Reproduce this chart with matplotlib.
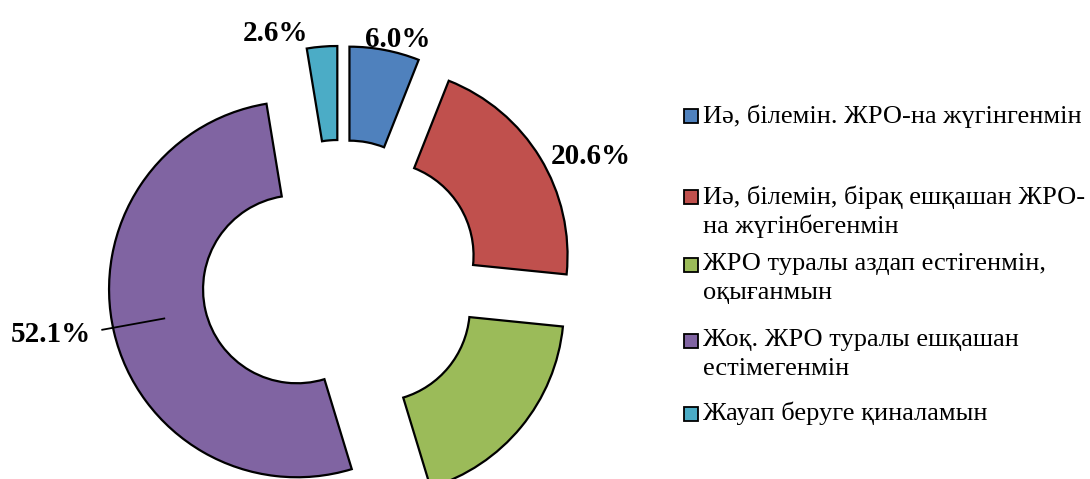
import matplotlib
matplotlib.use("Agg")
import matplotlib.pyplot as plt
from matplotlib.patches import Rectangle

# ----------------------------
# Data
# ----------------------------
categories = [
    "Иә, білемін. ЖРО-на жүгінгенмін",
    "Иә, білемін, бірақ ешқашан ЖРО-\nна жүгінбегенмін",
    "ЖРО туралы аздап естігенмін,\nоқығанмын",
    "Жоқ. ЖРО туралы ешқашан\nестімегенмін",
    "Жауап беруге қиналамын",
]
shares = [6.0, 20.6, 18.7, 52.1, 2.6]
colors = ["#4F81BD", "#C0504D", "#9BBB59", "#8064A2", "#4BACC6"]

# label positions (data units, radius 1 = outer ring); green label falls off the page
label_pos = [(0.303, 1.275), (1.33, 0.65), None, (-1.545, -0.295), (-0.35, 1.305)]

W, H = 1090, 479
fig = plt.figure(figsize=(W / 100, H / 100), dpi=100)
plt.rcParams["font.family"] = ["Liberation Serif", "DejaVu Serif"]

# donut centre and scale in pixels (top-left origin)
cx, cy, scale = 341, 279, 188
lim = 1.8
side = 2 * lim * scale
ax = fig.add_axes([(cx - side / 2) / W, (H - cy - side / 2) / H, side / W, side / H])

ax.pie(
    shares,
    colors=colors,
    startangle=90,
    counterclock=False,
    explode=[0.24] * len(shares),
    radius=1.0,
    wedgeprops=dict(width=0.5, edgecolor="black", linewidth=1.6),
)
ax.set_xlim(-lim, lim)
ax.set_ylim(-lim, lim)
ax.set_aspect("equal")
ax.axis("off")

for val, pos in zip(shares, label_pos):
    if pos is None:
        continue
    ax.text(pos[0], pos[1], f"{val:.1f}%", ha="center", va="center",
            fontsize=21, fontweight="bold")

# leader line for the big slice
ax.plot([-1.27, -0.94], [-0.27, -0.21], color="black", lw=1.3)

# ----------------------------
# Legend (drawn by hand to match spacing)
# ----------------------------
first_line_y = [116, 197, 264, 340, 413]
line_pitch = 29
for lab, col, y in zip(categories, colors, first_line_y):
    fig.add_artist(Rectangle((684 / W, 1 - (y + 7.5) / H), 14 / W, 14 / H,
                             transform=fig.transFigure, facecolor=col,
                             edgecolor="black", linewidth=1.3))
    for i, line in enumerate(lab.split("\n")):
        fig.text(703 / W, 1 - (y + i * line_pitch) / H, line,
                 ha="left", va="center", fontsize=19)

fig.savefig("out.png", dpi=100)
